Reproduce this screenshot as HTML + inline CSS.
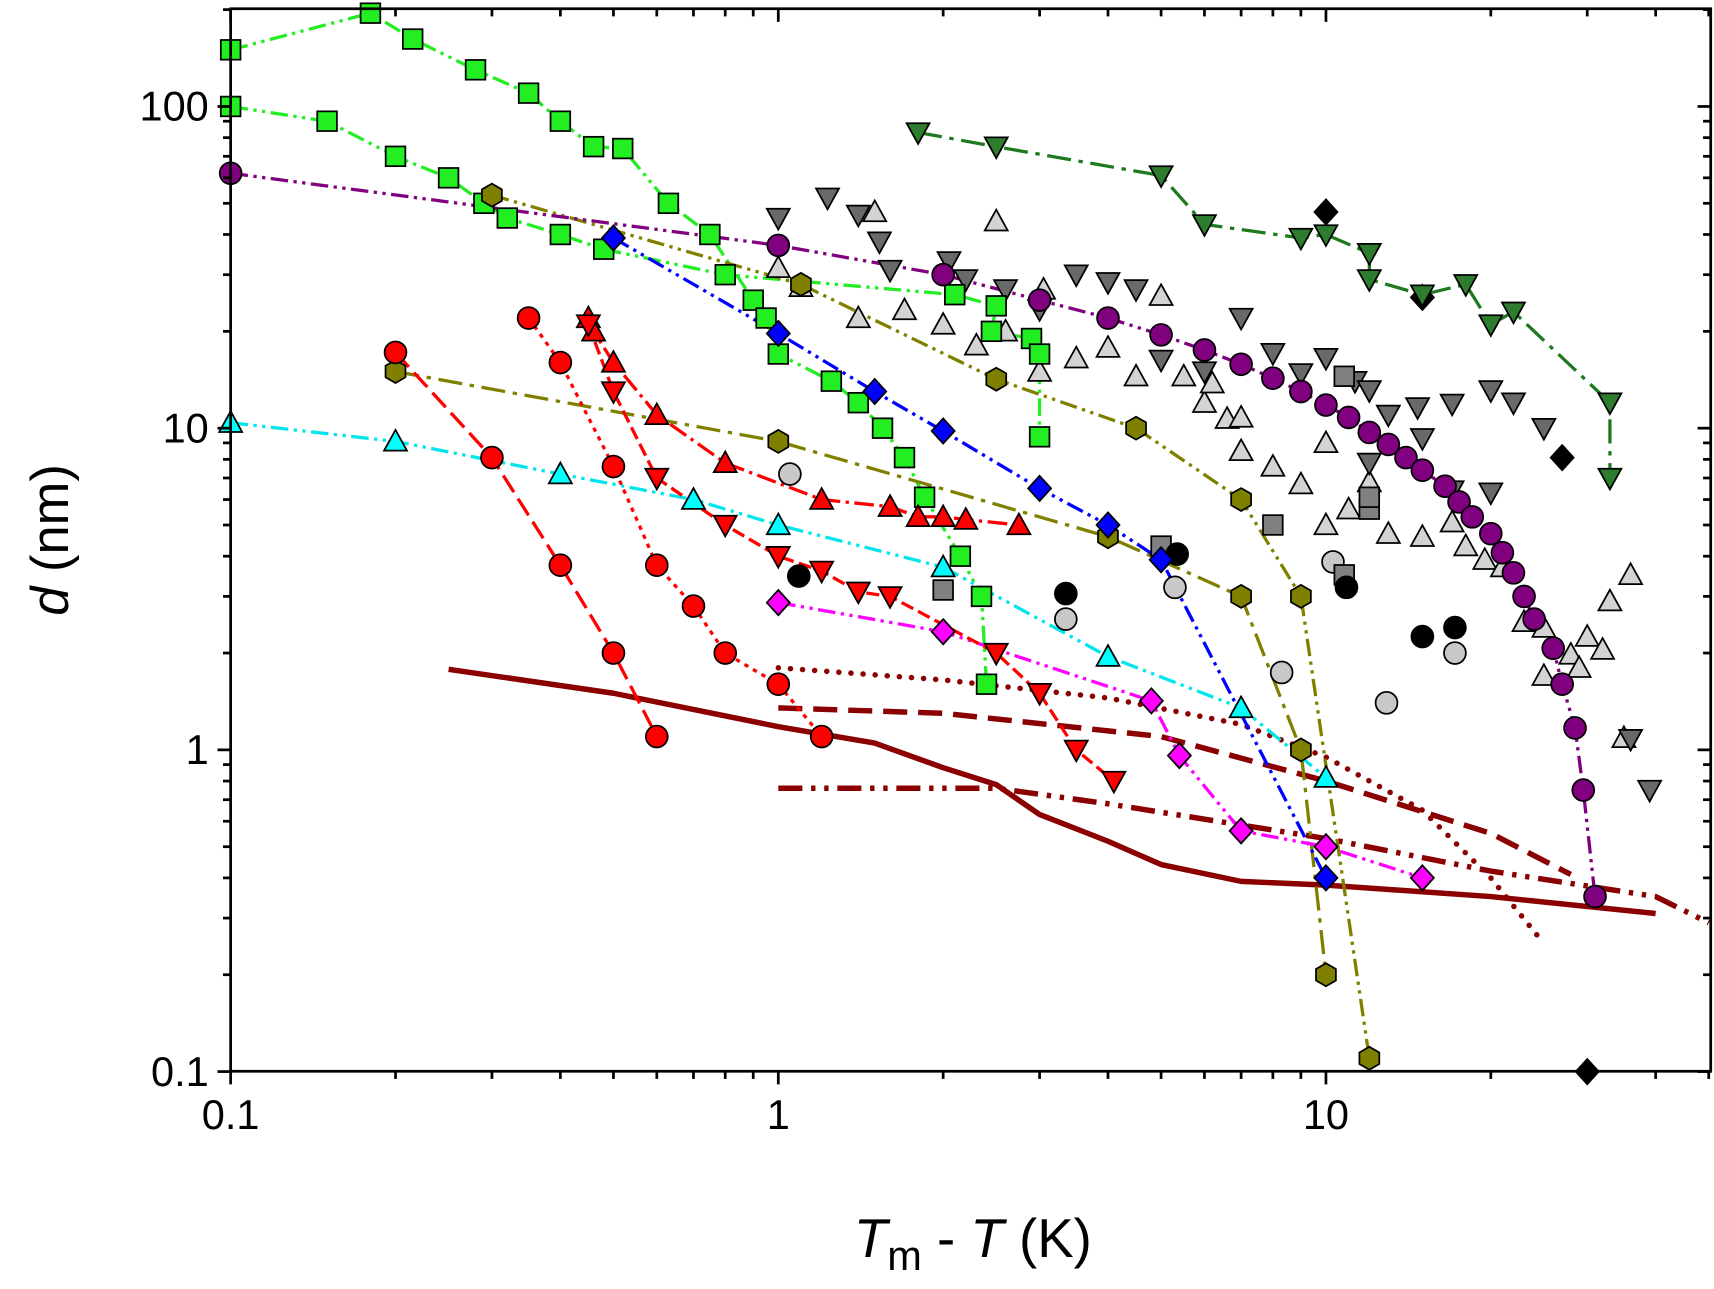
<!DOCTYPE html>
<html><head><meta charset="utf-8"><style>
html,body{margin:0;padding:0;background:#fff}
svg{display:block}
text{font-family:"Liberation Sans",Arial,sans-serif}
</style></head><body>
<svg id="chart" width="1714" height="1289" viewBox="0 0 1568 1179.2" xmlns="http://www.w3.org/2000/svg">
<g id="curves"></g>
<g id="lines"></g>
<g id="marks"></g>
<g id="axes"></g>
</svg>
<script>
// ---- data ----
const greenAx=[0.1,0.18,0.215,0.28,0.35,0.4,0.46,0.52,0.63,0.75,0.9,0.95,1.0,1.25,1.4,1.55,1.7,1.85,2.15,2.35,2.4];
const greenAy=[150,195,162,130,110,90,75,74,50,40,25,22,17,14,12,10,8.1,6.1,4.0,3.0,1.6];
const greenBx=[0.1,0.15,0.2,0.25,0.29,0.32,0.4,0.48,0.8,2.1,2.5,2.45,2.9,3.0,3.0];
const greenBy=[100,90,70,60,50,45,40,36,30,26,24,20,19,17,9.4];
const dgreenX=[1.8,2.5,5.0,6.0,9.0,10,12,12,15,18,20,22,33,33];
const dgreenY=[83,75,61,43,39,40,35,29,26,28,21,23,12,7];
const purpleX=[0.1,1,2,3,4,5,6,7,8,9,10,11,12,13,14,15,16.5,17.5,18.5,20,21,22,23,24,26,27,28.5,29.5,31];
const purpleY=[62,37,30,25,22,19.5,17.5,15.8,14.3,13,11.8,10.8,9.7,8.9,8.1,7.4,6.6,5.9,5.3,4.7,4.1,3.55,3.0,2.55,2.07,1.6,1.17,0.75,0.35];
const blueX=[0.5,1,1.5,2,3,4,5,10];
const blueY=[39,19.7,13,9.8,6.5,5.0,3.9,0.4];
const olive1X=[0.3,1.1,2.5,4.5,7,9,12];
const olive1Y=[53,28,14.2,10,6,3.0,0.11];
const olive2X=[0.2,1,4,7,9,10];
const olive2Y=[15,9.1,4.6,3.0,1.0,0.2];
const red1X=[0.2,0.3,0.4,0.5,0.6];
const red1Y=[17.2,8.1,3.75,2.0,1.1];
const red2X=[0.35,0.4,0.5,0.6,0.7,0.8,1,1.2];
const red2Y=[22,16,7.6,3.75,2.8,2.0,1.6,1.1];
const redUpX=[0.45,0.46,0.5,0.6,0.8,1.2,1.6,1.8,2,2.2,2.75];
const redUpY=[22,20,16,11,7.8,6.0,5.7,5.3,5.3,5.2,5.0];
const redDnX=[0.45,0.5,0.6,0.8,1,1.2,1.4,1.6,2.5,3,3.5,4.1];
const redDnY=[21,13,7,5.0,4.0,3.6,3.1,3.0,2.0,1.5,1.0,0.8];
const cyanX=[0.1,0.2,0.4,0.7,1,2,4,7,10];
const cyanY=[10.4,9.1,7.2,6.0,5.0,3.7,1.95,1.35,0.82];
const magX=[1,2,4.8,5.4,7,10,15];
const magY=[2.87,2.33,1.42,0.96,0.56,0.5,0.4];
const solidX=[0.25,0.5,1,1.5,2,2.5,3,4,5,7,10,20,40];
const solidY=[1.78,1.5,1.18,1.05,0.88,0.78,0.63,0.52,0.44,0.39,0.38,0.35,0.31];
const dashX=[1,2,5,10,20,28];
const dashY=[1.35,1.3,1.1,0.8,0.55,0.41];
const dotX=[1,2,4,7,10,15,20,25];
const dotY=[1.8,1.65,1.45,1.2,0.95,0.65,0.4,0.25];
const ddX=[1,2.5,4,10,20,40,50];
const ddY=[0.76,0.76,0.68,0.53,0.42,0.35,0.29];
const bDiaX=[10,15,27,30]; const bDiaY=[47,25.5,8.1,0.1];
const bCirX=[1.09,3.35,5.35,10.9,15,17.2]; const bCirY=[3.47,3.06,4.06,3.2,2.25,2.4];
const gCirX=[1.05,3.35,5.3,8.3,10.3,12.9,17.2]; const gCirY=[7.2,2.55,3.2,1.74,3.84,1.4,2.0];
const gSqX=[2,5,8,10.8,10.8,12,12]; const gSqY=[3.14,4.3,5.0,14.5,3.5,5.6,6.1];
const dgDnX=[1,1.23,1.4,1.53,1.6,2.05,2.2,2.6,3,3.5,4,4.5,5,6,7,8,9,10,11.3,12,13,14.7,17,20,22,25,12,17,20,36,39,15];
const dgDnY=[45,52,46,38,31,33,29,27,23.4,30,28.4,27,16.3,15,22,17.1,14.8,16.5,14,13.1,11,11.6,11.9,13.1,12,10,7.8,6.4,6.3,1.08,0.75,9.3];
const lgUpX=[1,1.1,1.4,1.5,1.7,2,2.3,2.5,2.6,3,3.05,3.5,4,4.5,5,5.5,6,6.6,7,8,9,10,10,11,12,13,15,17,18,19.5,21,23,25,28,30,32,33,36,35,25,29,6.2,7];
const lgUpY=[31.5,27.5,22,47,23.3,21,18.1,44,20,15,27,16.5,17.8,14.5,25.8,14.5,12,10.7,8.5,7.6,6.7,5.0,9,5.6,6.8,4.7,4.6,5.1,4.3,3.9,3.7,2.5,2.4,1.98,2.25,2.05,2.9,3.5,1.09,1.7,1.8,13.8,10.8];

// ---- axes ----
const X0=211, DX=501, Y1=686, DY=294.3, XR=1565, YT=8, YB=980;
const sx=v=>X0+(Math.log10(v)+1)*DX;
const sy=v=>Y1-Math.log10(v)*DY;
const NS='http://www.w3.org/2000/svg';
function mk(tag,attrs,parent){const e=document.createElementNS(NS,tag);for(const k in attrs)e.setAttribute(k,attrs[k]);parent.appendChild(e);return e;}
const gC=document.getElementById('curves'),gL=document.getElementById('lines'),gM=document.getElementById('marks'),gA=document.getElementById('axes');

function line(xs,ys,color,w,dash,name,parent){
  const d=xs.map((x,i)=>(i?'L':'M')+sx(x).toFixed(1)+' '+sy(ys[i]).toFixed(1)).join(' ');
  const p=mk('path',{d:d,fill:'none',stroke:color,'stroke-width':w,'stroke-dasharray':dash,'stroke-linejoin':'round'},parent);
  
  
  return p;
}
function marker(shape,x,y,fill,name){
  const cx=sx(x),cy=sy(y);let e;
  const a={fill:fill,stroke:'#000','stroke-width':1.6};
  if(shape==='circle'){e=mk('circle',Object.assign({cx:cx,cy:cy,r:10},a),gM);}
  else if(shape==='square'){e=mk('rect',Object.assign({x:cx-9,y:cy-9,width:18,height:18},a),gM);}
  else if(shape==='up'){e=mk('polygon',Object.assign({points:`${cx-10.5},${cy+8.5} ${cx+10.5},${cy+8.5} ${cx},${cy-10.5}`},a),gM);}
  else if(shape==='down'){e=mk('polygon',Object.assign({points:`${cx-10.5},${cy-8.5} ${cx+10.5},${cy-8.5} ${cx},${cy+10.5}`},a),gM);}
  else if(shape==='diamond'){e=mk('polygon',Object.assign({points:`${cx},${cy-11.5} ${cx+10.5},${cy} ${cx},${cy+11.5} ${cx-10.5},${cy}`},a),gM);}
  else {let pts=[];for(let k=0;k<6;k++){const t=Math.PI/6+k*Math.PI/3;pts.push((cx+10.5*Math.cos(t)).toFixed(1)+','+(cy+10.5*Math.sin(t)).toFixed(1));}
    e=mk('polygon',Object.assign({points:pts.join(' ')},a),gM);}
  
  
}
function series(xs,ys,shape,fill,lc,dash,name){
  if(lc) line(xs,ys,lc,3,dash,name+'-line',gL);
  xs.forEach((x,i)=>marker(shape,x,ys[i],fill,name+'-point'));
}
const DDD='16 5 3 5 3 5';
// model curves
line(solidX,solidY,'#8b0000',5,'','model-solid-curve',gC);
line(dashX,dashY,'#8b0000',5,'22 10','model-dashed-curve',gC);
const dp=line(dotX,dotY,'#8b0000',5,'0.1 11','model-dotted-curve',gC);
dp.setAttribute('stroke-linecap','round');
line(ddX,ddY,'#8b0000',5,'22 8 4 8 4 8','model-dashdot-curve',gC);
// scatter (no lines)
series(lgUpX,lgUpY,'up','#d3d3d3',null,'','lightgray-triangle');
series(dgDnX,dgDnY,'down','#696969',null,'','darkgray-triangle');
series(gCirX,gCirY,'circle','#c8c8c8',null,'','lightgray-circle');
series(gSqX,gSqY,'square','#808080',null,'','gray-square');
series(bCirX,bCirY,'circle','#000',null,'','black-circle');
series(bDiaX,bDiaY,'diamond','#000',null,'','black-diamond');
// lined series
series(greenBx,greenBy,'square','#22ee22','#22ee22',DDD,'green-square-b');
series(greenAx,greenAy,'square','#22ee22','#22ee22',DDD,'green-square-a');
series(dgreenX,dgreenY,'down','#2e7d2e','#1f7a1f','22 7 4 7','darkgreen-triangle');
series(olive1X,olive1Y,'hex','#808000','#808000',DDD,'olive-hexagon-a');
series(olive2X,olive2Y,'hex','#808000','#808000','22 7 4 7','olive-hexagon-b');
series(purpleX,purpleY,'circle','#800080','#800080',DDD,'purple-circle');
series(blueX,blueY,'diamond','#0000ff','#0000ff',DDD,'blue-diamond');
series(cyanX,cyanY,'up','#00ffff','#00e5ee',DDD,'cyan-triangle');
series(magX,magY,'diamond','#ff00ff','#ff00ff',DDD,'magenta-diamond');
series(red1X,red1Y,'circle','#ff0000','#ff0000','18 7','red-circle-a');
series(red2X,red2Y,'circle','#ff0000','#ff0000','4 5','red-circle-b');
series(redUpX,redUpY,'up','#ff0000','#ff0000','18 5 3 5','red-uptriangle');
series(redDnX,redDnY,'down','#ff0000','#ff0000','12 5','red-downtriangle');

// frame
const fr=mk('rect',{x:X0,y:YT,width:XR-X0,height:YB-YT,fill:'none',stroke:'#000','stroke-width':2.5},gA);


// ticks
for(let dec=-1;dec<=1;dec++){
  for(let m=1;m<=9;m++){
    const v=m*Math.pow(10,dec); const px=sx(v); if(px>XR+0.5) continue;
    const L=m===1?12:7;
    mk('line',{x1:px,y1:YB,x2:px,y2:YB+L,stroke:'#000','stroke-width':2.5},gA);
    mk('line',{x1:px,y1:YT,x2:px,y2:YT+L,stroke:'#000','stroke-width':2.5},gA);
  }
}
for(let dec=-1;dec<=2;dec++){
  for(let m=1;m<=9;m++){
    const v=m*Math.pow(10,dec); const py=sy(v); if(py<YT-0.5) continue;
    const L=m===1?12:7;
    mk('line',{x1:X0,y1:py,x2:X0-L,y2:py,stroke:'#000','stroke-width':2.5},gA);
    mk('line',{x1:XR,y1:py,x2:XR-L,y2:py,stroke:'#000','stroke-width':2.5},gA);
  }
}
const xTicks=[0.1,1,10], xLabels=['0.1','1','10'];
const yTicks=[0.1,1,10,100], yLabels=['0.1','1','10','100'];
xTicks.forEach((v,i)=>{const t=mk('text',{x:sx(v),y:YB+53,'font-size':38,'text-anchor':'middle'},gA);t.textContent=xLabels[i];
  
  });
yTicks.forEach((v,i)=>{const t=mk('text',{x:X0-20,y:sy(v)+13,'font-size':38,'text-anchor':'end'},gA);t.textContent=yLabels[i];
  
  });
</script>
<svg style="position:absolute;left:0;top:0" width="1714" height="1289" viewBox="0 0 1568 1179.2" xmlns="http://www.w3.org/2000/svg">
<text x="890" y="1150" font-size="50" text-anchor="middle" font-family="Liberation Sans, sans-serif"><tspan font-style="italic">T</tspan><tspan font-size="38" dy="12">m</tspan><tspan dy="-12"> - </tspan><tspan font-style="italic">T</tspan> (K)</text>
<text transform="translate(62,494) rotate(-90)" font-size="48" text-anchor="middle" font-family="Liberation Sans, sans-serif"><tspan font-style="italic">d</tspan> (nm)</text>
</svg>
</body></html>
